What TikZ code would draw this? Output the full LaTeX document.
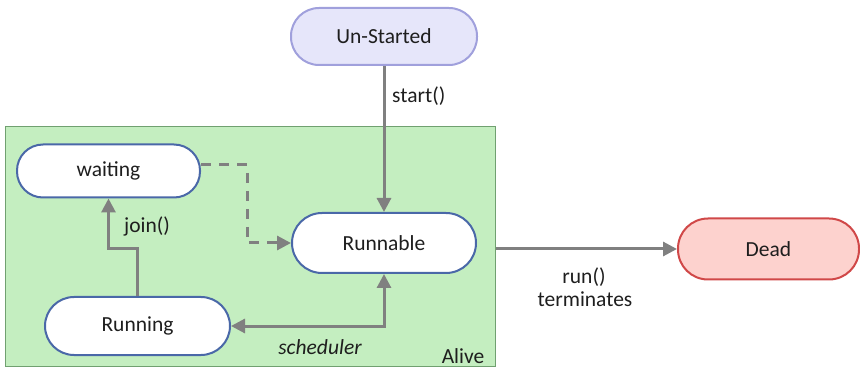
\documentclass[tikz,border=0pt]{standalone}
\usepackage{fontspec}
\setmainfont{Carlito}
\usetikzlibrary{arrows.meta}
\definecolor{nodeborder}{HTML}{4A68A8}
\definecolor{usfill}{HTML}{E6E6FA}
\definecolor{usborder}{HTML}{A0A0DC}
\definecolor{deadfill}{HTML}{FDD2CE}
\definecolor{deadborder}{HTML}{D04848}
\definecolor{alivefill}{HTML}{C4EEC0}
\definecolor{aliveborder}{HTML}{70A070}
\definecolor{conn}{HTML}{808080}
\definecolor{txt}{HTML}{1E1E1E}
\tikzset{
  state/.style={draw=nodeborder, line width=2pt, fill=white, rectangle,
    rounded corners=28pt, inner sep=0pt, minimum width=184pt, minimum height=58pt,
    font=\fontsize{21.5}{25}\selectfont, text=txt},
  lbl/.style={font=\fontsize{21.5}{25}\selectfont, text=txt, inner sep=0pt},
  conn/.style={draw=conn, line width=3pt, -{Triangle[length=14pt,width=14pt]}},
}
\begin{document}
\begin{tikzpicture}[x=1pt,y=-1pt]
\useasboundingbox (0,0) rectangle (860,374);
% Alive region
\node[draw=aliveborder, line width=1.5pt, fill=alivefill, inner sep=0pt,
  minimum width=490pt, minimum height=240pt] (alive) at (250.5,246.5) {};
\node[lbl] (alivelbl) at (463,356) {Alive};
% states
\node[state, draw=usborder, fill=usfill, minimum width=186pt, minimum height=57pt] (unstarted) at (384,36.5) {Un-Started};
\node[state, minimum width=183pt, minimum height=53pt, rounded corners=26pt] (waiting) at (108.5,171) {waiting};
\node[state, minimum width=184pt, minimum height=60pt, rounded corners=30pt] (runnable) at (384,243) {Runnable};
\node[state, minimum width=185pt, minimum height=58pt, rounded corners=29pt] (running) at (137.5,326) {Running};
\node[state, draw=deadborder, fill=deadfill, minimum width=181pt, minimum height=61pt, rounded corners=30pt] (dead) at (768.5,249) {Dead};
% connectors
\draw[conn] (unstarted.south) -- (runnable.north);
\node[lbl, anchor=west] (startlbl) at (392,96) {start()};
\draw[conn, dash pattern=on 10pt off 8pt] ([yshift=6pt]waiting.east) -- ++(46,0) |- (runnable.west);
\draw[conn] (running.north) -- ++(0,-47) -| (waiting.south);
\node[lbl, anchor=west] (joinlbl) at (124,226) {join()};
\draw[conn, {Triangle[length=14pt,width=14pt]}-{Triangle[length=14pt,width=14pt]}] (running.east) -| (runnable.south);
\node[lbl, font=\fontsize{21.5}{25}\selectfont\itshape] (schedlbl) at (320,347) {scheduler};
\coordinate (aliveexit) at (alive.east |- dead.west);
\draw[conn] (aliveexit) -- (dead.west);
\node[lbl] (runlbl) at (584,277) {run()};
\node[lbl] (termlbl) at (585,299) {terminates};
\end{tikzpicture}
\end{document}
